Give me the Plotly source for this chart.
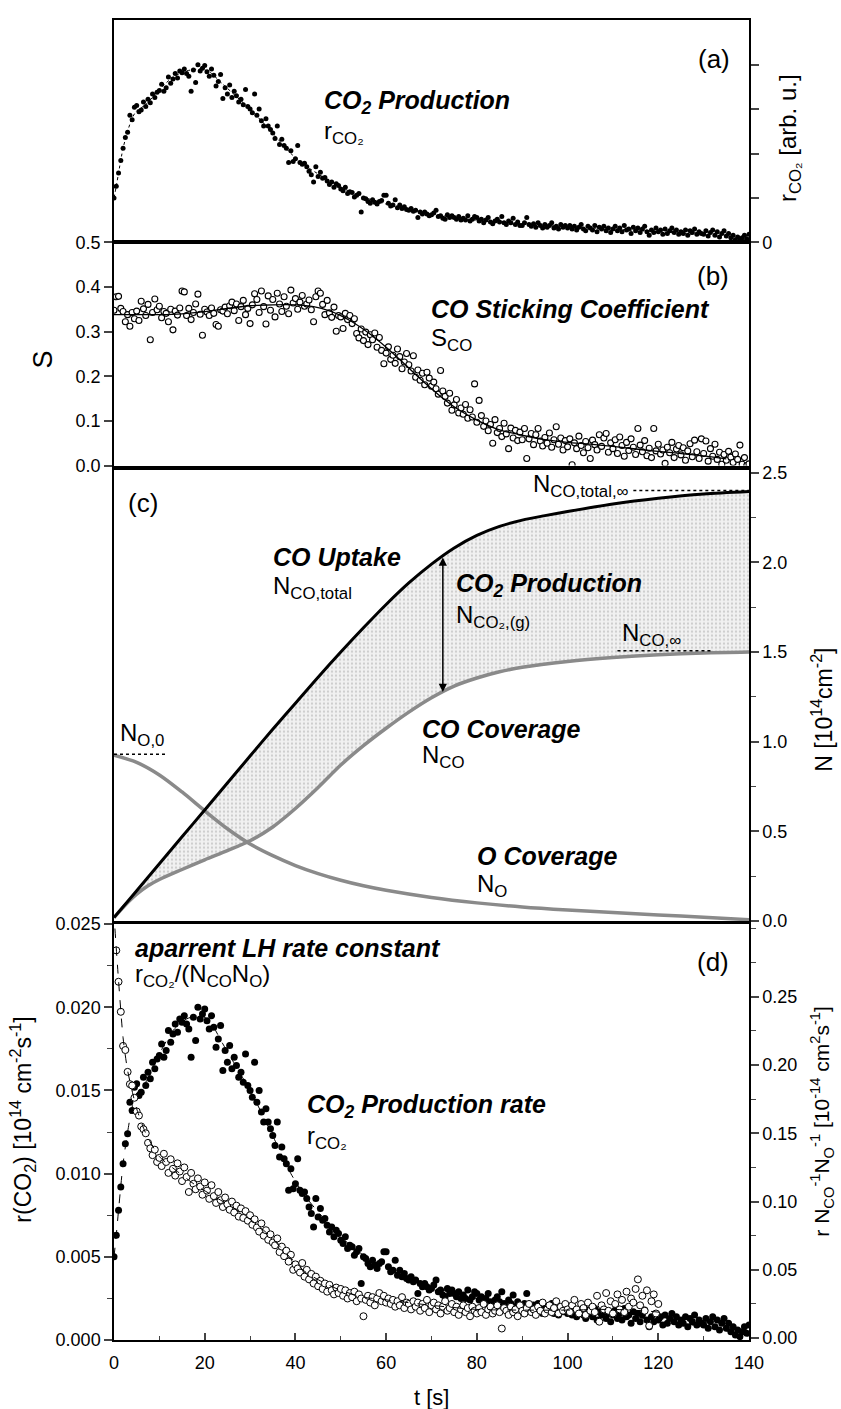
import numpy as np
import plotly.graph_objects as go

# ---------------- DATA ----------------
# time grid of the measurements (0.5 s sampling)
t_rate = [round(0.5 * i, 1) for i in range(281)]          # 0 ... 140 s
t_k = [round(0.5 * i, 1) for i in range(1, 241)]          # 0.5 ... 120 s

# CO2 production rate r(CO2) [1e14 cm^-2 s^-1]  (panel a and filled dots of panel d)
r_co2 = [
    0.0050, 0.0063, 0.0078, 0.0092, 0.0106, 0.0118, 0.0124, 0.0143, 0.0138, 0.0152,
    0.0154, 0.0147, 0.0149, 0.0158, 0.0153, 0.0161, 0.0157, 0.0167, 0.0163, 0.0169,
    0.0171, 0.0178, 0.0170, 0.0174, 0.0186, 0.0179, 0.0184, 0.0190, 0.0185, 0.0193,
    0.0191, 0.0195, 0.0190, 0.0187, 0.0170, 0.0194, 0.0180, 0.0200, 0.0193, 0.0196,
    0.0199, 0.0192, 0.0187, 0.0195, 0.0188, 0.0176, 0.0181, 0.0189, 0.0162, 0.0174,
    0.0167, 0.0177, 0.0163, 0.0170, 0.0165, 0.0158, 0.0161, 0.0155, 0.0172, 0.0153,
    0.0150, 0.0146, 0.0167, 0.0143, 0.0150, 0.0137, 0.0131, 0.0139, 0.0131, 0.0127,
    0.0123, 0.0117, 0.0131, 0.0110, 0.0116, 0.0109, 0.0106, 0.0090, 0.0103, 0.0091,
    0.0094, 0.0109, 0.0090, 0.0088, 0.0089, 0.0085, 0.0080, 0.0076, 0.0068, 0.0085,
    0.0074, 0.0079, 0.0072, 0.0073, 0.0069, 0.0065, 0.0068, 0.0062, 0.0066, 0.0064,
    0.0060, 0.0058, 0.0062, 0.0055, 0.0057, 0.0056, 0.0051, 0.0053, 0.0055, 0.0034,
    0.0050, 0.0049, 0.0046, 0.0044, 0.0048, 0.0045, 0.0043, 0.0046, 0.0047, 0.0053,
    0.0053, 0.0044, 0.0041, 0.0042, 0.0048, 0.0039, 0.0042, 0.0038, 0.0040, 0.0037,
    0.0036, 0.0038, 0.0035, 0.0036, 0.0028, 0.0034, 0.0032, 0.0034, 0.0032, 0.0030,
    0.0031, 0.0033, 0.0036, 0.0029, 0.0030, 0.0027, 0.0026, 0.0031, 0.0028, 0.0030,
    0.0028, 0.0026, 0.0029, 0.0025, 0.0027, 0.0025, 0.0030, 0.0024, 0.0026, 0.0029,
    0.0028, 0.0024, 0.0026, 0.0022, 0.0025, 0.0028, 0.0023, 0.0021, 0.0024, 0.0026,
    0.0023, 0.0029, 0.0022, 0.0020, 0.0024, 0.0022, 0.0027, 0.0020, 0.0023, 0.0019,
    0.0019, 0.0022, 0.0028, 0.0020, 0.0018, 0.0021, 0.0017, 0.0022, 0.0019, 0.0016,
    0.0020, 0.0017, 0.0019, 0.0022, 0.0016, 0.0018, 0.0015, 0.0020, 0.0017, 0.0019,
    0.0016, 0.0019, 0.0015, 0.0018, 0.0014, 0.0017, 0.0020, 0.0015, 0.0013, 0.0018,
    0.0016, 0.0014, 0.0019, 0.0012, 0.0017, 0.0015, 0.0018, 0.0013, 0.0016, 0.0011,
    0.0015, 0.0018, 0.0013, 0.0016, 0.0012, 0.0019, 0.0014, 0.0015, 0.0010, 0.0017,
    0.0013, 0.0016, 0.0011, 0.0015, 0.0018, 0.0012, 0.0008, 0.0014, 0.0011, 0.0016,
    0.0012, 0.0014, 0.0009, 0.0015, 0.0010, 0.0013, 0.0016, 0.0011, 0.0014, 0.0009,
    0.0012, 0.0010, 0.0014, 0.0008, 0.0013, 0.0011, 0.0015, 0.0009, 0.0012, 0.0010,
    0.0009, 0.0013, 0.0007, 0.0011, 0.0014, 0.0008, 0.0012, 0.0006, 0.0010, 0.0013,
    0.0007, 0.0010, 0.0005, 0.0008, 0.0003, 0.0006, 0.0002, 0.0005, 0.0008, 0.0004,
    0.0009,
]

# fit through r(CO2)
fit_r_t = [0, 0.5, 1, 2, 3, 4, 5, 7, 10, 13, 16, 19, 21, 24, 27, 30, 33, 36, 39, 42,
           45, 50, 55, 60, 65, 70, 75, 80, 90, 100, 110, 120, 130, 140]
fit_r = [0.0050, 0.0063, 0.0078, 0.0106, 0.0125, 0.0140, 0.0148, 0.0155, 0.0172, 0.0186,
         0.0193, 0.0195, 0.0192, 0.0178, 0.0164, 0.0150, 0.0134, 0.0117, 0.0100, 0.0087,
         0.0077, 0.0062, 0.0051, 0.0043, 0.0037, 0.0032, 0.0028, 0.0025, 0.0021, 0.00175,
         0.0015, 0.0012, 0.0008, 0.0003]

# CO sticking coefficient S_CO
s_co = [
    0.348, 0.378, 0.379, 0.352, 0.345, 0.322, 0.338, 0.312, 0.343, 0.329,
    0.346, 0.325, 0.368, 0.351, 0.336, 0.361, 0.282, 0.343, 0.373, 0.349,
    0.357, 0.331, 0.345, 0.341, 0.322, 0.350, 0.304, 0.346, 0.337, 0.353,
    0.391, 0.389, 0.336, 0.352, 0.327, 0.343, 0.362, 0.384, 0.339, 0.292,
    0.350, 0.344, 0.336, 0.353, 0.341, 0.316, 0.312, 0.349, 0.346, 0.355,
    0.340, 0.358, 0.366, 0.347, 0.362, 0.325, 0.356, 0.370, 0.338, 0.352,
    0.318, 0.360, 0.385, 0.372, 0.343, 0.391, 0.356, 0.317, 0.380, 0.348,
    0.372, 0.333, 0.386, 0.362, 0.345, 0.378, 0.357, 0.340, 0.393, 0.364,
    0.374, 0.350, 0.366, 0.381, 0.357, 0.362, 0.371, 0.349, 0.322, 0.378,
    0.391, 0.386, 0.361, 0.338, 0.370, 0.342, 0.332, 0.355, 0.301, 0.336,
    0.333, 0.307, 0.341, 0.327, 0.336, 0.318, 0.329, 0.296, 0.286, 0.306,
    0.280, 0.299, 0.271, 0.293, 0.282, 0.297, 0.265, 0.287, 0.258, 0.228,
    0.252, 0.266, 0.238, 0.247, 0.229, 0.261, 0.244, 0.217, 0.232, 0.251,
    0.226, 0.212, 0.246, 0.198, 0.214, 0.191, 0.207, 0.181, 0.209, 0.196,
    0.178, 0.187, 0.172, 0.160, 0.213, 0.167, 0.155, 0.140, 0.162, 0.124,
    0.136, 0.148, 0.118, 0.129, 0.115, 0.137, 0.106, 0.125, 0.109, 0.183,
    0.097, 0.146, 0.112, 0.088, 0.100, 0.078, 0.092, 0.050, 0.103, 0.074,
    0.083, 0.065, 0.095, 0.071, 0.038, 0.084, 0.062, 0.079, 0.056, 0.075,
    0.058, 0.083, 0.016, 0.060, 0.072, 0.047, 0.069, 0.083, 0.055, 0.044,
    0.063, 0.050, 0.073, 0.041, 0.058, 0.087, 0.048, 0.062, 0.035, 0.056,
    0.042, 0.060, 0.002, 0.051, 0.038, 0.066, 0.045, 0.029, 0.054, 0.040,
    0.016, 0.057, 0.047, 0.035, 0.069, 0.043, 0.062, 0.072, 0.030, 0.051,
    0.038, 0.058, 0.027, 0.064, 0.045, 0.021, 0.052, 0.034, 0.060, 0.041,
    0.025, 0.083, 0.046, 0.031, 0.056, 0.022, 0.039, 0.018, 0.083, 0.033,
    0.048, 0.026, 0.035, 0.005, 0.041, 0.029, 0.052, 0.018, 0.037, 0.045,
    0.024, 0.040, 0.012, 0.033, 0.049, 0.020, 0.057, 0.031, 0.016, 0.060,
    0.027, 0.055, 0.010, 0.038, 0.021, 0.048, 0.014, 0.030, 0.003, 0.025,
    0.012, 0.032, 0.019, 0.007, 0.026, 0.014, 0.046, 0.003, 0.018, 0.000,
    0.004,
]
fit_s_t = [0, 5, 10, 15, 20, 25, 30, 35, 40, 44, 48, 52, 56, 60, 64, 68, 72, 76, 80,
           85, 90, 95, 100, 105, 110, 117, 123, 129, 135]
fit_s = [0.338, 0.338, 0.338, 0.340, 0.345, 0.352, 0.358, 0.360, 0.360, 0.356, 0.345,
         0.325, 0.298, 0.265, 0.228, 0.190, 0.155, 0.125, 0.102, 0.080, 0.068, 0.058,
         0.052, 0.048, 0.043, 0.035, 0.029, 0.023, 0.015]

# panel c: coverages / uptake [1e14 cm^-2]
t_total = [0, 5, 10, 15, 20, 25, 30, 35, 40, 45, 50, 55, 60, 65, 70, 75, 80, 85, 90,
           95, 100, 110, 120, 130, 140]
n_total = [0.02, 0.17, 0.32, 0.47, 0.62, 0.77, 0.92, 1.07, 1.215, 1.36, 1.50, 1.635,
           1.765, 1.885, 1.99, 2.08, 2.15, 2.20, 2.235, 2.26, 2.283, 2.325, 2.357,
           2.381, 2.395]
t_nco = [0, 2.5, 5, 7.5, 10, 15, 20, 25, 30, 35, 40, 45, 50, 55, 60, 65, 70, 75, 80, 85,
         90, 100, 110, 120, 130, 140]
n_co = [0.02, 0.09, 0.15, 0.197, 0.232, 0.288, 0.342, 0.393, 0.448, 0.525, 0.628, 0.745,
        0.87, 0.978, 1.075, 1.165, 1.245, 1.31, 1.355, 1.39, 1.415, 1.447, 1.469, 1.485,
        1.495, 1.50]
t_no = [0, 5, 10, 15, 20, 25, 30, 35, 40, 45, 50, 55, 60, 70, 80, 90, 100, 110, 120, 130, 140]
n_o = [0.925, 0.885, 0.815, 0.72, 0.615, 0.515, 0.43, 0.365, 0.31, 0.265, 0.228, 0.197,
       0.172, 0.132, 0.102, 0.079, 0.062, 0.048, 0.035, 0.022, 0.008]
N_CO_TOTAL_INF = 2.40
N_CO_INF = 1.507
N_O_0 = 0.93
T_ARROW = 72.5

# panel d: apparent LH rate constant r/(N_CO N_O) [1e-14 cm^2 s^-1]
k_lh = [
    0.284, 0.261, 0.239, 0.214, 0.211, 0.195, 0.186, 0.185, 0.176, 0.166,
    0.163, 0.155, 0.153, 0.150, 0.143, 0.139, 0.134, 0.138, 0.129, 0.132,
    0.126, 0.135, 0.129, 0.121, 0.131, 0.124, 0.119, 0.128, 0.122, 0.115,
    0.125, 0.118, 0.107, 0.121, 0.113, 0.109, 0.117, 0.111, 0.105, 0.114,
    0.108, 0.102, 0.112, 0.104, 0.099, 0.107, 0.101, 0.096, 0.103, 0.098,
    0.094, 0.100, 0.092, 0.097, 0.089, 0.095, 0.088, 0.093, 0.086, 0.090,
    0.083, 0.087, 0.081, 0.078, 0.084, 0.075, 0.079, 0.072, 0.076, 0.070,
    0.068, 0.073, 0.063, 0.067, 0.060, 0.064, 0.056, 0.061, 0.050, 0.054,
    0.051, 0.048, 0.055, 0.045, 0.050, 0.043, 0.047, 0.040, 0.045, 0.038,
    0.042, 0.036, 0.040, 0.034, 0.039, 0.035, 0.032, 0.037, 0.033, 0.036,
    0.031, 0.035, 0.029, 0.033, 0.030, 0.034, 0.027, 0.032, 0.029, 0.016,
    0.028, 0.031, 0.026, 0.030, 0.024, 0.029, 0.033, 0.027, 0.031, 0.026,
    0.029, 0.025, 0.028, 0.023, 0.027, 0.024, 0.030, 0.022, 0.026, 0.025,
    0.021, 0.027, 0.023, 0.026, 0.020, 0.025, 0.022, 0.028, 0.019, 0.024,
    0.026, 0.021, 0.024, 0.018, 0.023, 0.027, 0.020, 0.022, 0.025, 0.019,
    0.023, 0.017, 0.021, 0.024, 0.019, 0.022, 0.016, 0.023, 0.020, 0.018,
    0.022, 0.019, 0.025, 0.017, 0.021, 0.023, 0.018, 0.020, 0.024, 0.019,
    0.007, 0.022, 0.020, 0.017, 0.023, 0.019, 0.021, 0.016, 0.024, 0.020,
    0.018, 0.022, 0.025, 0.019, 0.021, 0.017, 0.023, 0.020, 0.026, 0.018,
    0.021, 0.024, 0.019, 0.022, 0.027, 0.018, 0.023, 0.020, 0.025, 0.021,
    0.019, 0.024, 0.028, 0.021, 0.018, 0.025, 0.022, 0.017, 0.026, 0.020,
    0.023, 0.019, 0.031, 0.012, 0.024, 0.021, 0.033, 0.020, 0.027, 0.018,
    0.025, 0.032, 0.021, 0.028, 0.019, 0.034, 0.023, 0.029, 0.026, 0.036,
    0.043, 0.024, 0.031, 0.020, 0.035, 0.009, 0.027, 0.032, 0.018, 0.025,
]
fit_k_t = [0.2, 1, 2, 3, 4, 5, 7, 10, 14, 18, 22, 26, 30, 34, 38, 42, 46, 50, 55, 60,
           70, 80, 90, 100, 110, 120, 130, 140]
fit_k = [0.300, 0.262, 0.220, 0.196, 0.181, 0.168, 0.150, 0.133, 0.122, 0.112, 0.104,
         0.096, 0.087, 0.076, 0.062, 0.049, 0.041, 0.035, 0.030, 0.028, 0.024, 0.021,
         0.0205, 0.0205, 0.021, 0.019, 0.012, 0.005]

x_ticks = [0, 20, 40, 60, 80, 100, 120, 140]

# ---------------- FIGURE ----------------
FONT = "Liberation Sans"
fig = go.Figure()

# panel (a)
fig.add_trace(go.Scatter(x=fit_r_t, y=fit_r, mode="lines", xaxis="x", yaxis="y",
                         line=dict(color="black", width=1, dash="dot", shape="spline", smoothing=0.7)))
fig.add_trace(go.Scatter(x=t_rate, y=r_co2, mode="markers", xaxis="x", yaxis="y",
                         marker=dict(color="black", size=5, line=dict(width=0))))

# panel (b)
fig.add_trace(go.Scatter(x=t_rate, y=s_co, mode="markers", xaxis="x2", yaxis="y2",
                         marker=dict(color="white", size=6, line=dict(color="black", width=1.1))))
fig.add_trace(go.Scatter(x=fit_s_t, y=fit_s, mode="lines", xaxis="x2", yaxis="y2",
                         line=dict(color="black", width=1.3, shape="spline", smoothing=0.8)))

# panel (c) – shaded area between uptake and CO coverage
fig.add_trace(go.Scatter(x=t_nco, y=n_co, mode="lines", xaxis="x3", yaxis="y3",
                         line=dict(width=0, shape="spline", smoothing=0.8)))
fig.add_trace(go.Scatter(x=t_total, y=n_total, mode="lines", xaxis="x3", yaxis="y3",
                         line=dict(width=0, shape="spline", smoothing=0.8), fill="tonexty",
                         fillcolor="#ececec",
                         fillpattern=dict(shape=".", bgcolor="#f1f1f1", fgcolor="#a8a8a8",
                                          size=4, solidity=0.25)))
grey = "#8a8a8a"
fig.add_trace(go.Scatter(x=t_no, y=n_o, mode="lines", xaxis="x3", yaxis="y3",
                         line=dict(color=grey, width=3.5, shape="spline", smoothing=0.8)))
fig.add_trace(go.Scatter(x=t_nco, y=n_co, mode="lines", xaxis="x3", yaxis="y3",
                         line=dict(color=grey, width=3.5, shape="spline", smoothing=0.8)))
fig.add_trace(go.Scatter(x=t_total, y=n_total, mode="lines", xaxis="x3", yaxis="y3",
                         line=dict(color="black", width=3, shape="spline", smoothing=0.8)))
# reference levels (dotted)
fig.add_trace(go.Scatter(x=[114.5, 140], y=[N_CO_TOTAL_INF, N_CO_TOTAL_INF], mode="lines",
                         xaxis="x3", yaxis="y3", line=dict(color="black", width=1.5, dash="dot")))
fig.add_trace(go.Scatter(x=[111, 132], y=[N_CO_INF, N_CO_INF], mode="lines",
                         xaxis="x3", yaxis="y3", line=dict(color="black", width=1.5, dash="dot")))
fig.add_trace(go.Scatter(x=[0, 11.8], y=[N_O_0, N_O_0], mode="lines",
                         xaxis="x3", yaxis="y3", line=dict(color="black", width=1.5, dash="dot")))

# panel (d)
fig.add_trace(go.Scatter(x=fit_r_t, y=fit_r, mode="lines", xaxis="x4", yaxis="y4",
                         line=dict(color="black", width=1, dash="dash", shape="spline", smoothing=0.7)))
fig.add_trace(go.Scatter(x=t_rate, y=r_co2, mode="markers", xaxis="x4", yaxis="y4",
                         marker=dict(color="black", size=7, line=dict(width=0))))
fig.add_trace(go.Scatter(x=t_k, y=k_lh, mode="markers", xaxis="x4", yaxis="y5",
                         marker=dict(color="white", size=7, line=dict(color="black", width=1))))
fig.add_trace(go.Scatter(x=fit_k_t, y=fit_k, mode="lines", xaxis="x4", yaxis="y5",
                         line=dict(color="black", width=1, dash="dash", shape="spline", smoothing=0.7)))

# ---------------- AXES ----------------
W, H = 841, 1409
L, R, T, B = 114, 92, 10, 69
ph = H - T - B


def pf(px):
    return (H - B - px) / ph


line_kw = dict(showline=True, linecolor="black", linewidth=1.5, showgrid=False, zeroline=False)
tickfont = dict(family=FONT, size=18, color="black")

xa = dict(range=[0, 140], mirror=True, **line_kw)
fig.update_layout(
    xaxis=dict(xa, anchor="y", showticklabels=False, ticks=""),
    xaxis2=dict(xa, anchor="y2", showticklabels=False, ticks=""),
    xaxis3=dict(xa, anchor="y3", showticklabels=False, ticks=""),
    xaxis4=dict(xa, anchor="y4", tickvals=x_ticks, ticks="inside", ticklen=7, tickwidth=1.5,
                tickfont=tickfont, ticklabelstandoff=6,
                minor=dict(ticks="inside", ticklen=4, tickwidth=1.2, dtick=10, tick0=0)),
    yaxis=dict(domain=[pf(234), 1.0], range=[0, 0.02503], side="right", anchor="x", mirror=True,
               ticks="outside", ticklen=8, tickwidth=1.5,
               tickvals=[0, 0.005, 0.01, 0.015, 0.02], ticktext=["0", " ", " ", " ", " "],
               tickfont=tickfont, **line_kw),
    yaxis2=dict(domain=[pf(459), pf(234)], range=[0, 0.5], side="left", anchor="x2", mirror=True,
                ticks="outside", ticklen=8, tickwidth=1.5, dtick=0.1, tick0=0, tickformat=".1f",
                tickfont=tickfont, **line_kw),
    yaxis3=dict(domain=[pf(918), pf(463)], range=[0, 2.5166], side="right", anchor="x3", mirror=True,
                ticks="outside", ticklen=8, tickwidth=1.5, dtick=0.5, tick0=0, tickformat=".1f",
                minor=dict(ticks="outside", ticklen=5, tickwidth=1.2, dtick=0.25, tick0=0),
                tickfont=tickfont, **line_kw),
    yaxis4=dict(domain=[0, pf(921)], range=[0, 0.025], side="left", anchor="x4",
                ticks="outside", ticklen=8, tickwidth=1.5, dtick=0.005, tick0=0, tickformat=".3f",
                minor=dict(ticks="outside", ticklen=5, tickwidth=1.2, dtick=0.0025, tick0=0),
                tickfont=tickfont, **line_kw),
    yaxis5=dict(overlaying="y4", range=[-0.0014, 0.3032], side="right", anchor="x4",
                ticks="outside", ticklen=8, tickwidth=1.5,
                tickvals=[0, 0.05, 0.1, 0.15, 0.2, 0.25], tickformat=".2f",
                minor=dict(ticks="outside", ticklen=5, tickwidth=1.2, dtick=0.025, tick0=0),
                tickfont=tickfont, **line_kw),
)

# ---------------- TEXT ----------------
ann = []


def txt(x, y, s, xref, yref, size=22, xanchor="left", angle=0, yanchor="middle"):
    ann.append(dict(x=x, y=y, xref=xref, yref=yref, text=s, showarrow=False,
                    xanchor=xanchor, yanchor=yanchor, textangle=angle,
                    font=dict(family=FONT, size=size, color="black")))


BI = lambda s: "<b><i>" + s + "</i></b>"
SB, SR, SP = 25, 24, 26   # bold-italic captions, regular labels, panel letters

# panel (a)
txt(132.3, 0.0206, "(a)", "x", "y", SP, "center")
txt(45.8, 0.0158, BI("CO<sub>2</sub> Production"), "x", "y", SB)
txt(45.8, 0.0124, "r<sub>CO₂</sub>", "x", "y", SR)
# panel (b)
txt(132.0, 0.4245, "(b)", "x2", "y2", SP, "center")
txt(69.5, 0.350, BI("CO Sticking Coefficient"), "x2", "y2", SB)
txt(69.5, 0.283, "S<sub>CO</sub>", "x2", "y2", SR)
# panel (c)
txt(6.5, 2.33, "(c)", "x3", "y3", SP, "center")
txt(34.6, 2.027, BI("CO Uptake"), "x3", "y3", SB)
txt(34.6, 1.862, "N<sub>CO,total</sub>", "x3", "y3", SR)
txt(74.9, 1.871, BI("CO<sub>2</sub> Production"), "x3", "y3", SB)
txt(74.9, 1.696, "N<sub>CO₂,(g)</sub>", "x3", "y3", SR)
txt(92.0, 2.43, "N<sub>CO,total,∞</sub>", "x3", "y3", SR)
txt(111.6, 1.60, "N<sub>CO,∞</sub>", "x3", "y3", SR)
txt(0.8, 1.04, "N<sub>O,0</sub>", "x3", "y3", SR)
txt(67.5, 1.07, BI("CO Coverage"), "x3", "y3", SB)
txt(67.5, 0.917, "N<sub>CO</sub>", "x3", "y3", SR)
txt(79.6, 0.365, BI("O Coverage"), "x3", "y3", SB)
txt(79.6, 0.199, "N<sub>O</sub>", "x3", "y3", SR)
# panel (d)
txt(4.1, 0.02357, BI("aparrent LH rate constant"), "x4", "y4", SB)
txt(4.1, 0.0219, "r<sub>CO₂</sub>/(N<sub>CO</sub>N<sub>O</sub>)", "x4", "y4", SR)
txt(132.0, 0.0227, "(d)", "x4", "y4", SP, "center")
txt(42.0, 0.01409, BI("CO<sub>2</sub> Production rate"), "x4", "y4", SB)
txt(42.0, 0.0122, "r<sub>CO₂</sub>", "x4", "y4", SR)


# axis titles
def xp(px):
    return (px - L) / (W - L - R)


txt(xp(43), pf(352), "S", "paper", "paper", 27, "center", -90)
txt(xp(789), pf(129), "r<sub>CO₂</sub> [arb. u.]", "paper", "paper", 24, "center", -90)
txt(xp(822), pf(705), "N [10<sup>14</sup>cm<sup>-2</sup>]", "paper", "paper", 23, "center", -90)
txt(xp(22), pf(1118), "r(CO<sub>2</sub>) [10<sup>14</sup> cm<sup>-2</sup>s<sup>-1</sup>]",
    "paper", "paper", 23, "center", -90)
txt(xp(822), pf(1120),
    "r N<sub>CO</sub><sup>-1</sup>N<sub>O</sub><sup>-1</sup> [10<sup>-14</sup> cm<sup>2</sup>s<sup>-1</sup>]",
    "paper", "paper", 21, "center", -90)
txt(0.5, pf(1398), "t [s]", "paper", "paper", 22, "center")

# double arrow between uptake and CO coverage
y_top = float(np.interp(T_ARROW, t_total, n_total))
y_bot = float(np.interp(T_ARROW, t_nco, n_co))
ann.append(dict(x=T_ARROW, y=y_bot, ax=T_ARROW, ay=y_top, xref="x3", yref="y3",
                axref="x3", ayref="y3", showarrow=True, arrowhead=2, arrowside="end+start",
                arrowsize=1.1, arrowwidth=1.5, arrowcolor="black", text=""))

fig.update_layout(
    annotations=ann,
    width=W, height=H,
    margin=dict(l=L, r=R, t=T, b=B, pad=0),
    paper_bgcolor="white", plot_bgcolor="white",
    showlegend=False,
    font=dict(family=FONT, size=18, color="black"),
)

fig.write_html("out.html")
